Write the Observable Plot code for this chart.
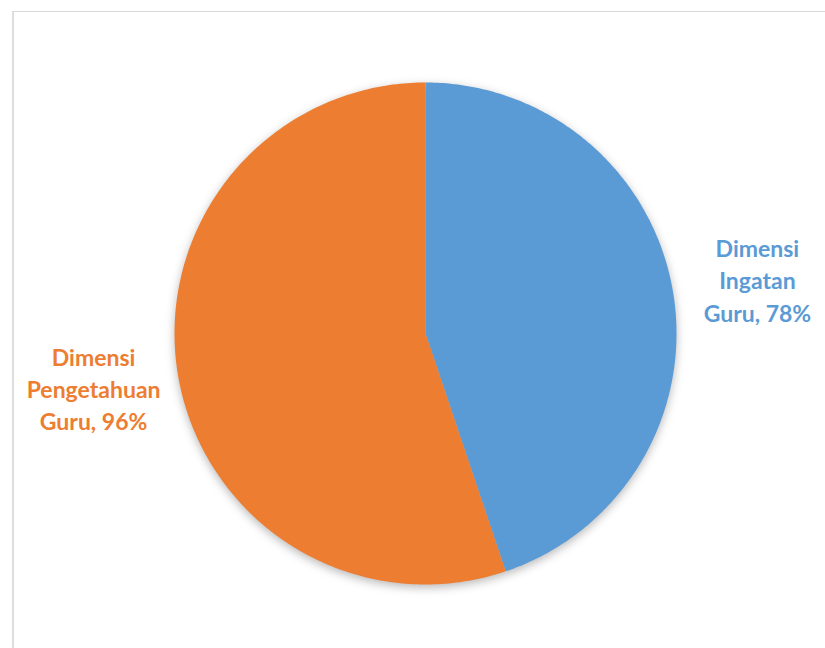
<!DOCTYPE html>
<html><head><meta charset="utf-8">
<script src="https://cdn.jsdelivr.net/npm/d3@7"></script>
<script src="https://cdn.jsdelivr.net/npm/@observablehq/plot@0.6"></script>
<style>
html,body{margin:0;padding:0;background:#fff;overflow:hidden;width:825px;height:648px;}
#chart{position:absolute;left:0;top:0;}
#frame{position:absolute;left:12px;top:11px;width:900px;height:700px;border-top:1px solid #d9d9d9;border-left:2px solid #dedede;pointer-events:none;}
#chart g[aria-label="line"]{filter:drop-shadow(0px 3px 5px rgba(0,0,0,0.28));}
</style></head><body>
<div id="chart"></div><div id="frame"></div>
<script>
const categories = ["Dimensi Ingatan Guru", "Dimensi Pengetahuan Guru"];
const labelLines = ["Dimensi\nIngatan\nGuru", "Dimensi\nPengetahuan\nGuru"];
const values = [78, 96];
const colors = ["#5B9BD5", "#ED7D31"];

const arcs = d3.pie().sort(null).value(d => d)(values);
const slicePts = [];
arcs.forEach((a, i) => {
  const n = 240;
  slicePts.push({cat: categories[i], x: 0, y: 0});
  for (let k = 0; k <= n; k++) {
    const t = a.startAngle + (a.endAngle - a.startAngle) * k / n;
    slicePts.push({cat: categories[i], x: Math.sin(t), y: Math.cos(t)});
  }
  slicePts.push({cat: categories[i], x: 0, y: 0});
});
const labelData = arcs.map((a, i) => {
  const m = (a.startAngle + a.endAngle) / 2;
  return {cat: categories[i], text: labelLines[i] + ", " + values[i] + "%", x: 1.34 * Math.sin(m), y: 1.34 * Math.cos(m)};
});

const chart = Plot.plot({
  width: 825, height: 648, margin: 0,
  style: {background: "transparent"},
  x: {domain: [-1, 1], range: [174, 676], axis: null},
  y: {domain: [-1, 1], range: [584, 82], axis: null},
  color: {domain: categories, range: colors},
  marks: [
    Plot.line(slicePts, {x: "x", y: "y", z: "cat", fill: "cat", stroke: "none", curve: "linear"}),
    Plot.text(labelData, {x: "x", y: "y", text: "text", fill: "cat", fontSize: 23, fontWeight: "bold", lineHeight: 1.4, fontFamily: "Lato", textAnchor: "middle"})
  ]
});
document.getElementById("chart").appendChild(chart);
</script>
</body></html>
